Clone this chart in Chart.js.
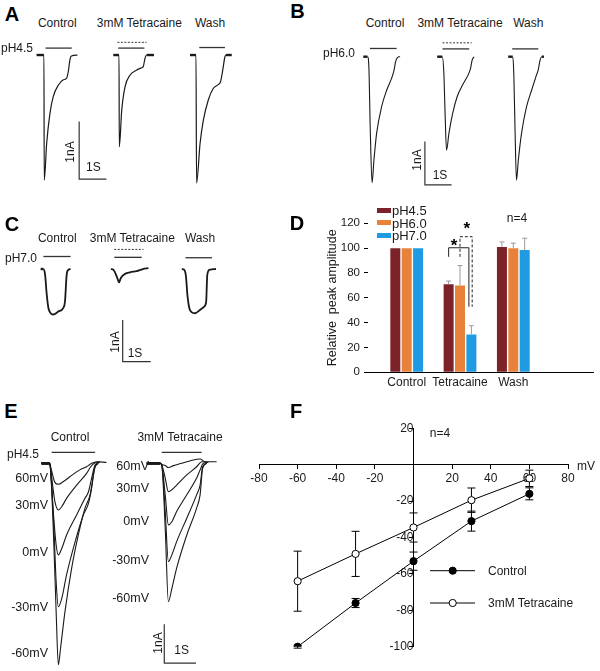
<!DOCTYPE html>
<html>
<head>
<meta charset="utf-8">
<script src="https://cdn.jsdelivr.net/npm/chart.js@4.4.1/dist/chart.umd.min.js"></script>
<style>
  body { margin: 0; background: #fff; width: 600px; height: 671px; position: relative; overflow: hidden;
         font-family: "Liberation Sans", Arial, sans-serif; color: #1a1a1a; }
  canvas { position: absolute; }
  .t { position: absolute; white-space: pre; line-height: 1; }
  .sw { position: absolute; width: 14px; height: 5px; }
</style>
</head>
<body>
<canvas id="cA" width="300" height="160" style="left:0;top:35px"></canvas>
<canvas id="cB" width="300" height="160" style="left:300px;top:35px"></canvas>
<canvas id="cC" width="300" height="140" style="left:0;top:230px"></canvas>
<canvas id="cD" width="300" height="200" style="left:300px;top:195px"></canvas>
<canvas id="cE" width="300" height="231" style="left:0;top:440px"></canvas>
<canvas id="cF" width="360" height="261" style="left:240px;top:410px"></canvas>
<script>
// ---- traces: [time (s), current (nA)] ----
const aControl = [[1.34,0],[1.61,0],[1.62,-2.17],[1.71,-1.53],[1.83,-1.01],[1.95,-0.72],[2.14,-0.52],[2.32,-0.43],[2.44,-0.40],[2.50,-0.29],[2.56,-0.09],[2.60,-0.02],[2.84,0]];
const aTetra   = [[4.15,0],[4.36,0],[4.37,-1.59],[4.46,-0.95],[4.58,-0.55],[4.76,-0.35],[5.01,-0.26],[5.19,-0.22],[5.25,-0.20],[5.31,-0.06],[5.37,0],[5.64,0]];
const aWash    = [[6.96,0],[7.18,0],[7.20,-2.22],[7.33,-1.53],[7.45,-1.13],[7.63,-0.78],[7.81,-0.58],[8.00,-0.51],[8.08,-0.46],[8.16,-0.26],[8.24,-0.03],[8.28,0],[8.49,0]];
const aStim  = [[1.67,2.63,0.12],[4.33,5.29,0.12],[7.30,8.24,0.13]];
const aDrug  = [4.30,5.37,0.22];
const aScale = [[2.90,-1.15],[2.90,-2.15],[3.90,-2.15]];

const bControl = [[2.37,0],[2.53,0],[2.58,-0.23],[2.63,-1.62],[2.70,-2.91],[2.77,-2.39],[2.87,-1.77],[3.06,-1.15],[3.25,-0.77],[3.43,-0.50],[3.52,-0.32],[3.58,-0.12],[3.65,-0.02],[3.75,0]];
const bTetra   = [[5.14,0],[5.33,0],[5.39,-0.38],[5.44,-1.39],[5.49,-2.16],[5.58,-1.77],[5.72,-1.31],[5.89,-0.92],[6.12,-0.62],[6.30,-0.42],[6.39,-0.27],[6.45,-0.08],[6.52,0]];
const bWash    = [[7.80,0],[7.97,0],[8.01,-0.38],[8.06,-1.77],[8.11,-2.85],[8.18,-2.39],[8.30,-1.77],[8.49,-1.15],[8.68,-0.77],[8.84,-0.46],[8.93,-0.29],[8.99,-0.09],[9.06,0],[9.14,0]];
const bStim  = [[2.62,3.62,0.19],[5.34,6.34,0.18],[7.95,8.93,0.18]];
const bDrug  = [5.34,6.43,0.32];
const bScale = [[4.68,-1.96],[4.68,-2.96],[5.68,-2.96]];

const cControl = [[1.45,0],[1.55,0],[1.61,-0.14],[1.67,-0.62],[1.73,-0.94],[1.81,-1.06],[1.90,-1.09],[2.08,-1.02],[2.26,-0.93],[2.32,-0.78],[2.38,-0.14],[2.44,-0.02],[2.52,0]];
const cTetra   = [[3.96,0],[4.05,-0.02],[4.17,-0.18],[4.25,-0.32],[4.31,-0.22],[4.43,-0.13],[4.64,-0.08],[4.88,-0.05],[5.10,0],[5.30,0.02]];
const cWash    = [[6.49,0],[6.58,-0.02],[6.64,-0.18],[6.69,-0.62],[6.76,-0.94],[6.85,-1.04],[6.96,-1.06],[7.14,-0.98],[7.29,-0.90],[7.36,-0.78],[7.40,-0.14],[7.48,-0.02],[7.71,0]];
const cStim  = [[1.55,2.52,0.30],[4.08,5.06,0.28],[6.62,7.57,0.27]];
const cDrug  = [4.08,5.12,0.47];
const cScale = [[4.38,-1.22],[4.38,-2.22],[5.38,-2.22]];

// E: voltage steps 60, 30, 0, -30, -60 mV
const eControl = [
  [[1.31,0],[1.56,0],[1.58,-0.04],[1.66,-0.30],[1.73,-0.49],[1.84,-0.54],[2.00,-0.47],[2.21,-0.34],[2.52,-0.17],[2.73,-0.09],[2.89,0],[3.05,0.04],[3.36,0.02]],
  [[1.31,0],[1.56,0],[1.58,-0.04],[1.66,-0.56],[1.73,-0.98],[1.84,-1.20],[1.95,-1.11],[2.10,-0.90],[2.42,-0.56],[2.73,-0.26],[2.86,-0.09],[2.97,0],[3.15,0.04]],
  [[1.31,0],[1.56,0],[1.58,-0.04],[1.68,-1.24],[1.77,-2.09],[1.84,-2.35],[1.95,-2.18],[2.10,-1.84],[2.42,-1.32],[2.68,-0.90],[2.79,-0.73],[2.89,-0.38],[3.00,-0.04],[3.15,0.03]],
  [[1.31,0],[1.56,0],[1.58,-0.04],[1.70,-1.67],[1.77,-3.03],[1.84,-3.68],[1.95,-3.46],[2.10,-2.86],[2.37,-2.01],[2.63,-1.32],[2.79,-1.03],[2.89,-0.64],[2.98,-0.13],[3.10,0]],
  [[1.31,0],[1.56,0],[1.58,-0.04],[1.68,-1.67],[1.77,-3.80],[1.84,-5.17],[1.91,-4.74],[2.05,-3.80],[2.26,-2.69],[2.47,-1.84],[2.68,-1.15],[2.84,-0.81],[2.92,-0.43],[3.00,-0.09],[3.10,0]]
];
const eTetra = [
  [[4.63,0],[5.05,0],[5.10,-0.03],[5.21,-0.06],[5.31,-0.11],[5.47,-0.06],[5.73,0],[5.99,0.06],[6.31,0.11],[6.47,0.04],[6.83,0.04]],
  [[4.63,0],[5.05,0],[5.10,-0.04],[5.21,-0.38],[5.31,-0.73],[5.42,-0.68],[5.57,-0.56],[5.89,-0.30],[6.20,-0.09],[6.36,0.04],[6.52,0.04]],
  [[4.63,0],[5.05,0],[5.10,-0.04],[5.21,-0.81],[5.31,-1.58],[5.42,-1.50],[5.57,-1.24],[5.89,-0.81],[6.20,-0.38],[6.31,-0.17],[6.41,0],[6.57,0.02]],
  [[4.63,0],[5.05,0],[5.10,-0.04],[5.21,-1.24],[5.31,-2.52],[5.42,-2.35],[5.57,-2.01],[5.89,-1.41],[6.20,-0.81],[6.31,-0.56],[6.39,-0.09],[6.52,0]],
  [[4.63,0],[5.05,0],[5.10,-0.04],[5.21,-1.67],[5.31,-3.55],[5.42,-3.21],[5.57,-2.69],[5.89,-1.84],[6.20,-1.15],[6.31,-0.81],[6.39,-0.13],[6.52,0]]
];
const eStim  = [[1.63,3.00,0.28],[5.10,6.36,0.28]];
const eScale = [[5.18,-4.13],[5.18,-5.13],[6.18,-5.13]];

// ---- D: relative peak amplitude ----
const dCats  = ['Control', 'Tetracaine', 'Wash'];
const dPH45  = [100, 71, 101];
const dPH60  = [100, 70, 100];
const dPH70  = [100, 30.5, 98.5];
const dErr45 = [0, 2.5, 4];
const dErr60 = [0, 16, 4];
const dErr70 = [0, 7, 9.5];

// ---- F: I-V ----
const fVolt    = [-60, -30, 0, 30, 60];
const fControl = [-100, -76, -53, -31, -16];
const fTetra   = [-64, -49, -34.5, -19.5, -7.5];
const fErrC    = [0.8, 2.5, 5, 5.5, 3.3];
const fErrT    = [16.5, 12.4, 8, 6.7, 4.5];

Chart.defaults.font.family = '"Liberation Sans", Arial, sans-serif';
Chart.defaults.color = '#1a1a1a';

const pts = a => a.map(p => ({x: p[0], y: p[1]}));

function traceChart(id, xmax, ymin, ymax, traces, stims, drug, scaleBar, lw) {
  const datasets = traces.map(t => ({
    data: pts(t), borderColor: '#1a1a1a', borderWidth: lw, cubicInterpolationMode: 'monotone',
    segment: { borderWidth: c => (c.p0.parsed.y === 0 && c.p1.parsed.y === 0) ? 2.4 : undefined }
  }));
  stims.forEach(s => datasets.push({ data: pts([[s[0], s[2]], [s[1], s[2]]]), borderColor: '#333', borderWidth: 1.3 }));
  if (drug) datasets.push({ data: pts([[drug[0], drug[2]], [drug[1], drug[2]]]), borderColor: '#333', borderWidth: 1, borderDash: [2, 1.5] });
  datasets.push({ data: pts(scaleBar), borderColor: '#333', borderWidth: 1.2 });
  new Chart(document.getElementById(id), {
    type: 'line',
    data: { datasets },
    options: {
      responsive: false, animation: false, events: [],
      layout: { padding: 0 },
      elements: { point: { radius: 0 } },
      plugins: { legend: { display: false }, tooltip: { enabled: false } },
      scales: {
        x: { type: 'linear', display: false, min: 0, max: xmax },
        y: { type: 'linear', display: false, min: ymin, max: ymax }
      }
    }
  });
}

traceChart('cA', 10.99, -2.426, 0.347, [aControl, aTetra, aWash], aStim, aDrug, aScale, 1.2);
traceChart('cB', 11.24, -3.194, 0.501, [bControl, bTetra, bWash], bStim, bDrug, bScale, 1.1);
traceChart('cC', 10.71, -2.42, 0.935, [cControl, cTetra, cWash], cStim, cDrug, cScale, 1.8);
traceChart('cE', 9.46, -5.33, 0.597, eControl.concat(eTetra), eStim, null, eScale, 1.1);

// D error bars + significance brackets
const dErrs = [dErr45, dErr60, dErr70];
const dPlugin = {
  id: 'dExtras',
  afterDatasetsDraw(chart) {
    const ctx = chart.ctx, y = chart.scales.y;
    ctx.save();
    ctx.strokeStyle = '#9a9a9a';
    ctx.lineWidth = 1;
    chart.data.datasets.forEach((ds, di) => {
      chart.getDatasetMeta(di).data.forEach((bar, i) => {
        const e = dErrs[di][i];
        if (!e) return;
        const top = y.getPixelForValue(ds.data[i].y + e);
        ctx.beginPath();
        ctx.moveTo(bar.x, bar.y); ctx.lineTo(bar.x, top);
        ctx.moveTo(bar.x - 2.5, top); ctx.lineTo(bar.x + 2.5, top);
        ctx.stroke();
      });
    });
    const b0 = chart.getDatasetMeta(0).data[1], b1 = chart.getDatasetMeta(1).data[1], b2 = chart.getDatasetMeta(2).data[1];
    ctx.strokeStyle = '#222';
    ctx.beginPath();
    ctx.moveTo(b0.x, y.getPixelForValue(93));
    ctx.lineTo(b0.x, y.getPixelForValue(100.3));
    ctx.lineTo(b2.x - 2.5, y.getPixelForValue(100.3));
    ctx.lineTo(b2.x - 2.5, y.getPixelForValue(52.8));
    ctx.stroke();
    ctx.setLineDash([3, 2]);
    ctx.beginPath();
    ctx.moveTo(b1.x, y.getPixelForValue(93));
    ctx.lineTo(b1.x, y.getPixelForValue(109.2));
    ctx.lineTo(b2.x + 0.8, y.getPixelForValue(109.2));
    ctx.lineTo(b2.x + 0.8, y.getPixelForValue(52.8));
    ctx.stroke();
    ctx.restore();
  }
};

new Chart(document.getElementById('cD'), {
  type: 'bar',
  data: {
    datasets: [
      { label: 'pH4.5', data: dPH45.map((v, i) => ({x: i, y: v})), backgroundColor: '#7b2328' },
      { label: 'pH6.0', data: dPH60.map((v, i) => ({x: i, y: v})), backgroundColor: '#e8823a' },
      { label: 'pH7.0', data: dPH70.map((v, i) => ({x: i, y: v})), backgroundColor: '#1e9be2' }
    ]
  },
  options: {
    responsive: false, animation: false, events: [],
    layout: { padding: { left: 0, right: 7, top: 28.3, bottom: 0 } },
    datasets: { bar: { barPercentage: 0.88, categoryPercentage: 0.64 } },
    plugins: { legend: { display: false }, tooltip: { enabled: false } },
    scales: {
      x: {
        type: 'linear', min: -0.726, max: 3.495, offset: false,
        afterFit: s => { s.height = 22.7; },
        grid: { display: true, drawOnChartArea: false, drawTicks: false },
        border: { display: true, color: '#000', width: 1 },
        ticks: { stepSize: 1, includeBounds: false, autoSkip: false, maxRotation: 0, padding: 3.2,
                 font: { size: 12 }, callback: v => dCats[v] || '' }
      },
      y: {
        min: 0, max: 120,
        afterFit: s => { s.width = 68; },
        border: { display: false },
        grid: { drawOnChartArea: false, tickLength: 4, color: '#000' },
        ticks: { stepSize: 20, padding: 4, font: { size: 11.5 } },
        title: { display: true, text: 'Relative  peak amplitude', font: { size: 12.5 }, padding: { top: 25.5, bottom: 0 } }
      }
    }
  },
  plugins: [dPlugin]
});

// F error bars + legend symbols
const fErrs = [fErrC, fErrT];
const fPlugin = {
  id: 'fExtras',
  beforeDatasetsDraw(chart) {
    const ctx = chart.ctx, y = chart.scales.y;
    ctx.save();
    ctx.strokeStyle = '#000';
    ctx.lineWidth = 1;
    chart.data.datasets.forEach((ds, di) => {
      chart.getDatasetMeta(di).data.forEach((pt, i) => {
        const v = ds.data[i].y, e = fErrs[di][i];
        const t = y.getPixelForValue(v + e), b = y.getPixelForValue(v - e);
        ctx.beginPath();
        ctx.moveTo(pt.x, t); ctx.lineTo(pt.x, b);
        ctx.moveTo(pt.x - 4, t); ctx.lineTo(pt.x + 4, t);
        ctx.moveTo(pt.x - 4, b); ctx.lineTo(pt.x + 4, b);
        ctx.stroke();
      });
    });
    ctx.restore();
  },
  afterDraw(chart) {
    const ctx = chart.ctx;
    ctx.save();
    ctx.strokeStyle = '#000';
    ctx.lineWidth = 1;
    [[160.7, '#000'], [193, '#fff']].forEach(([ly, fill]) => {
      ctx.beginPath(); ctx.moveTo(190, ly); ctx.lineTo(235, ly); ctx.stroke();
      ctx.beginPath(); ctx.arc(212.7, ly, 3.6, 0, Math.PI * 2);
      ctx.fillStyle = fill; ctx.fill(); ctx.stroke();
    });
    ctx.restore();
  }
};

new Chart(document.getElementById('cF'), {
  type: 'line',
  data: {
    datasets: [
      { label: 'Control', data: fVolt.map((v, i) => ({x: v, y: fControl[i]})), borderColor: '#000', borderWidth: 1,
        pointRadius: 3.6, pointBackgroundColor: '#000', pointBorderColor: '#000', pointBorderWidth: 1 },
      { label: '3mM Tetracaine', data: fVolt.map((v, i) => ({x: v, y: fTetra[i]})), borderColor: '#000', borderWidth: 1,
        pointRadius: 3.6, pointBackgroundColor: '#fff', pointBorderColor: '#000', pointBorderWidth: 1 }
    ]
  },
  options: {
    responsive: false, animation: false, events: [],
    layout: { padding: { left: 19, right: 32, top: 18.3, bottom: 24.3 } },
    plugins: { legend: { display: false }, tooltip: { enabled: false } },
    scales: {
      x: {
        type: 'linear', position: { y: 0 }, min: -80, max: 80,
        grid: { drawOnChartArea: false, tickLength: 4, color: '#000' },
        border: { color: '#000' },
        ticks: { stepSize: 20, padding: 3, font: { size: 12 }, callback: v => v === 0 ? '' : v }
      },
      y: {
        type: 'linear', position: { x: 0 }, min: -100, max: 20,
        grid: { drawOnChartArea: false, tickLength: 4, color: '#000' },
        border: { color: '#000' },
        ticks: { stepSize: 20, padding: 3, font: { size: 12 }, callback: v => v === 0 ? '' : v }
      }
    }
  },
  plugins: [fPlugin]
});

// ---- text ----
function label(text, x, y, align, size, bold, rot) {
  const d = document.createElement('div');
  d.className = 't';
  d.textContent = text;
  d.style.left = x + 'px';
  d.style.top = y + 'px';
  d.style.fontSize = (size || 12) + 'px';
  if (bold) { d.style.fontWeight = 'bold'; d.style.color = '#000'; }
  const tx = align === 'left' ? '0' : align === 'right' ? '-100%' : '-50%';
  d.style.transform = 'translate(' + tx + ',-50%)' + (rot ? ' rotate(-90deg)' : '');
  document.body.appendChild(d);
}
function swatch(color, x, y) {
  const d = document.createElement('div');
  d.className = 'sw';
  d.style.background = color;
  d.style.left = x + 'px';
  d.style.top = (y - 2.5) + 'px';
  document.body.appendChild(d);
}

[['A', 12, 13.5], ['B', 297.5, 11], ['C', 12, 223.5], ['D', 297, 223], ['E', 11, 410.5], ['F', 296, 410.5]]
  .forEach(p => label(p[0], p[1], p[2], 'center', 20, true));

label('Control', 57.3, 23.3); label('3mM Tetracaine', 139.3, 23.3); label('Wash', 210, 23.3);
label('pH4.5', 1, 48.3, 'left');
label('1nA', 70, 151.7, 'center', 12, false, true); label('1S', 93.3, 166.7);

label('Control', 385, 23.3); label('3mM Tetracaine', 460, 23.3); label('Wash', 528.3, 23.3);
label('pH6.0', 323, 53.3, 'left');
label('1nA', 416.7, 160, 'center', 12, false, true); label('1S', 440, 175);

label('Control', 57.3, 237.7); label('3mM Tetracaine', 132.3, 237.7); label('Wash', 200, 237.7);
label('pH7.0', 5, 258.3, 'left');
label('1nA', 115, 341.7, 'center', 12, false, true); label('1S', 135, 353);

swatch('#7b2328', 376.7, 210); swatch('#e8823a', 376.7, 222.7); swatch('#1e9be2', 376.7, 235.3);
label('pH4.5', 392, 210, 'left', 13); label('pH6.0', 392, 222.7, 'left', 13); label('pH7.0', 392, 235.3, 'left', 13);
label('n=4', 517, 218);
label('*', 454, 245, 'center', 17, true); label('*', 466.7, 228, 'center', 17, true);

label('Control', 70, 436.7); label('3mM Tetracaine', 180, 436.7);
label('pH4.5', 7, 454.3, 'left');
[['60mV', 478.3], ['30mV', 505], ['0mV', 551.7], ['-30mV', 606.7], ['-60mV', 653.3]].forEach(p => label(p[0], 48, p[1], 'right', 12.5));
[['60mV', 465.7], ['30mV', 488.3], ['0mV', 521], ['-30mV', 560], ['-60mV', 598.3]].forEach(p => label(p[0], 149, p[1], 'right', 12.5));
label('1nA', 158.3, 643.3, 'center', 12, false, true); label('1S', 181.7, 650);

label('n=4', 440, 433); label('mV', 586, 466);
label('Control', 488, 571, 'left'); label('3mM Tetracaine', 488, 603, 'left');
</script>
</body>
</html>
